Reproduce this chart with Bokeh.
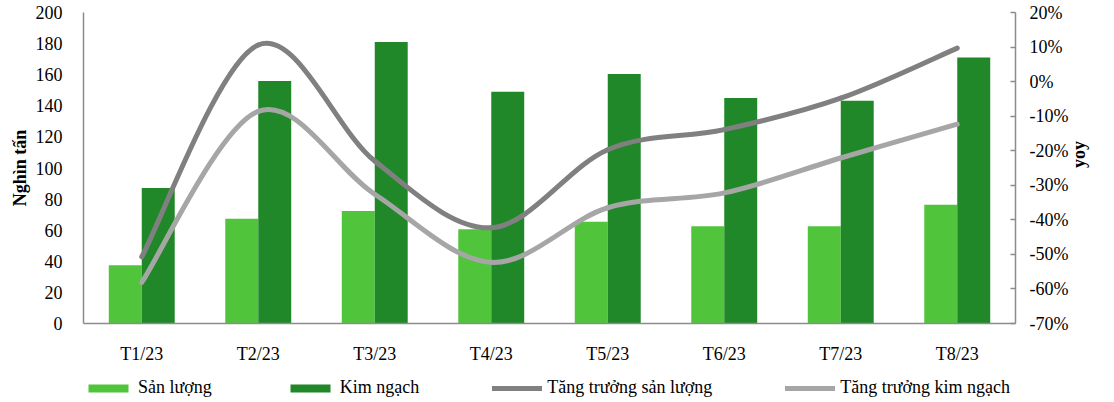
import math
import numpy as np
from bokeh.plotting import figure
from bokeh.layouts import column
from bokeh.models import (Range1d, LinearAxis, FixedTicker, PrintfTickFormatter,
                          Legend, LegendItem, ColumnDataSource)
from bokeh.transform import dodge
from bokeh.embed import file_html
from bokeh.resources import INLINE

# ---------------- data ----------------
months = ["T1/23", "T2/23", "T3/23", "T4/23", "T5/23", "T6/23", "T7/23", "T8/23"]
san_luong = [37.4, 67.4, 72.3, 60.6, 65.5, 62.5, 62.5, 76.4]          # Nghìn tấn
kim_ngach = [87.1, 156.0, 181.0, 149.0, 160.4, 145.0, 143.3, 171.0]
tt_san_luong = [-50.7, 10.6, -23.0, -42.3, -19.7, -13.9, -4.8, 9.7]    # yoy %
tt_kim_ngach = [-58.1, -8.6, -32.6, -52.3, -36.5, -32.2, -22.1, -12.3]
left_ticks = [0, 20, 40, 60, 80, 100, 120, 140, 160, 180, 200]
right_ticks = [-70, -60, -50, -40, -30, -20, -10, 0, 10, 20]
legend_labels = ["Sản lượng", "Kim ngạch", "Tăng trưởng sản lượng", "Tăng trưởng kim ngạch"]

# ---------------- styles ----------------
FONT = "Liberation Serif"
C_LIGHT = "#50C43A"
C_DARK = "#21882A"
C_LINE1 = "#808080"
C_LINE2 = "#A6A6A6"
AXIS_C = "#8C8C8C"
BAR_W = 0.283
LINE_W = 5
FIG_W = 1112

idx = list(range(len(months)))

p = figure(width=FIG_W, height=366, output_backend="svg", toolbar_location=None,
           x_range=Range1d(-0.5, len(months) - 0.5), y_range=Range1d(0, 200),
           min_border_left=83, min_border_right=FIG_W - 83 - 932, min_border_top=12,
           min_border_bottom=42)
p.outline_line_color = None
p.xgrid.visible = False
p.ygrid.visible = False
p.background_fill_color = "white"
p.border_fill_color = "white"

p.extra_y_ranges = {"yoy": Range1d(-70, 20)}

bar_src = ColumnDataSource(dict(x=idx, sl=san_luong, kn=kim_ngach))
bar_light = dict(top="sl", width=BAR_W, source=bar_src, fill_color=C_LIGHT, line_color=None)
bar_dark = dict(top="kn", width=BAR_W, source=bar_src, fill_color=C_DARK, line_color=None)
p.vbar(x=dodge("x", -BAR_W / 2, range=p.x_range), **bar_light)
p.vbar(x=dodge("x", BAR_W / 2, range=p.x_range), **bar_dark)


def smooth_segments(xs, ys):
    xs = np.asarray(xs, dtype=float)
    ys = np.asarray(ys, dtype=float)
    n = len(xs)
    d = dict(x0=[], y0=[], x1=[], y1=[], cx0=[], cy0=[], cx1=[], cy1=[])
    for i in range(n - 1):
        a = max(i - 1, 0)
        b = min(i + 2, n - 1)
        d["x0"].append(xs[i]); d["y0"].append(ys[i])
        d["x1"].append(xs[i + 1]); d["y1"].append(ys[i + 1])
        d["cx0"].append(xs[i] + (xs[i + 1] - xs[a]) / 6)
        d["cy0"].append(ys[i] + (ys[i + 1] - ys[a]) / 6)
        d["cx1"].append(xs[i + 1] - (xs[b] - xs[i]) / 6)
        d["cy1"].append(ys[i + 1] - (ys[b] - ys[i]) / 6)
    return ColumnDataSource(d)


bez = dict(x0="x0", y0="y0", x1="x1", y1="y1", cx0="cx0", cy0="cy0", cx1="cx1", cy1="cy1")
src_tsl = smooth_segments(idx, tt_san_luong)
src_tkn = smooth_segments(idx, tt_kim_ngach)
line1 = dict(line_color=C_LINE1, line_width=LINE_W, line_cap="round")
line2 = dict(line_color=C_LINE2, line_width=LINE_W, line_cap="round")
p.bezier(**bez, source=src_tsl, y_range_name="yoy", **line1)
p.bezier(**bez, source=src_tkn, y_range_name="yoy", **line2)

# ---------------- axes ----------------
xa = p.xaxis[0]
xa.ticker = FixedTicker(ticks=idx)
xa.major_label_overrides = {i: m for i, m in zip(idx, months)}
xa.major_tick_line_color = None
xa.minor_tick_line_color = None
xa.axis_line_color = AXIS_C
xa.axis_line_width = 1.5
xa.major_label_standoff = 14
xa.major_label_text_font = FONT
xa.major_label_text_font_size = "18px"
xa.major_label_text_color = "black"

ya = p.yaxis[0]
ya.ticker = FixedTicker(ticks=left_ticks)
ya.major_tick_line_color = None
ya.minor_tick_line_color = None
ya.axis_line_color = AXIS_C
ya.axis_line_width = 1.5
ya.major_label_standoff = 15
ya.major_label_text_font = FONT
ya.major_label_text_font_size = "18px"
ya.major_label_text_color = "black"
ya.axis_label = "Nghìn tấn"
ya.axis_label_text_font = FONT
ya.axis_label_text_font_size = "18px"
ya.axis_label_text_font_style = "bold"
ya.axis_label_text_color = "black"
ya.axis_label_standoff = 3

ra = LinearAxis(y_range_name="yoy", ticker=FixedTicker(ticks=right_ticks),
                formatter=PrintfTickFormatter(format="%d%%"))
ra.major_tick_in = 5
ra.major_tick_out = 0
ra.major_tick_line_color = AXIS_C
ra.major_tick_line_width = 1.5
ra.minor_tick_line_color = None
ra.axis_line_color = AXIS_C
ra.axis_line_width = 1.5
ra.major_label_standoff = 14
ra.major_label_text_font = FONT
ra.major_label_text_font_size = "18px"
ra.major_label_text_color = "black"
ra.axis_label = "yoy"
ra.axis_label_text_font = FONT
ra.axis_label_text_font_size = "18px"
ra.axis_label_text_font_style = "bold"
ra.axis_label_text_color = "black"
ra.axis_label_standoff = 8
try:
    ra.axis_label_orientation = math.pi / 2
except Exception:
    pass
p.add_layout(ra, "right")

# ---------------- legend strip under the chart ----------------
# the same series, in a strip whose ranges keep the marks out of view; only the legend shows
lf = figure(width=FIG_W, height=34, output_backend="svg", toolbar_location=None,
            x_range=Range1d(100, 101), y_range=Range1d(1000, 1001),
            x_axis_type=None, y_axis_type=None,
            min_border_left=0, min_border_right=0, min_border_top=0, min_border_bottom=0)
lf.outline_line_color = None
lf.background_fill_color = "white"
lf.border_fill_color = "white"
lf.grid.visible = False
lr1 = lf.vbar(x="x", **bar_light)
lr2 = lf.vbar(x="x", **bar_dark)
lr3 = lf.bezier(**bez, source=src_tsl, **line1)
lr4 = lf.bezier(**bez, source=src_tkn, **line2)

leg = Legend(items=[LegendItem(label=lab, renderers=[r])
                    for lab, r in zip(legend_labels, [lr1, lr2, lr3, lr4])],
             location=(0, 2), orientation="horizontal", glyph_width=50, glyph_height=10,
             label_standoff=5, spacing=73, padding=0, margin=0, border_line_color=None,
             background_fill_alpha=0, label_text_font=FONT, label_text_font_size="18px",
             label_text_color="black")
lf.add_layout(leg)

layout = column(p, lf, spacing=0)
open("out.html", "w").write(file_html(layout, INLINE))
